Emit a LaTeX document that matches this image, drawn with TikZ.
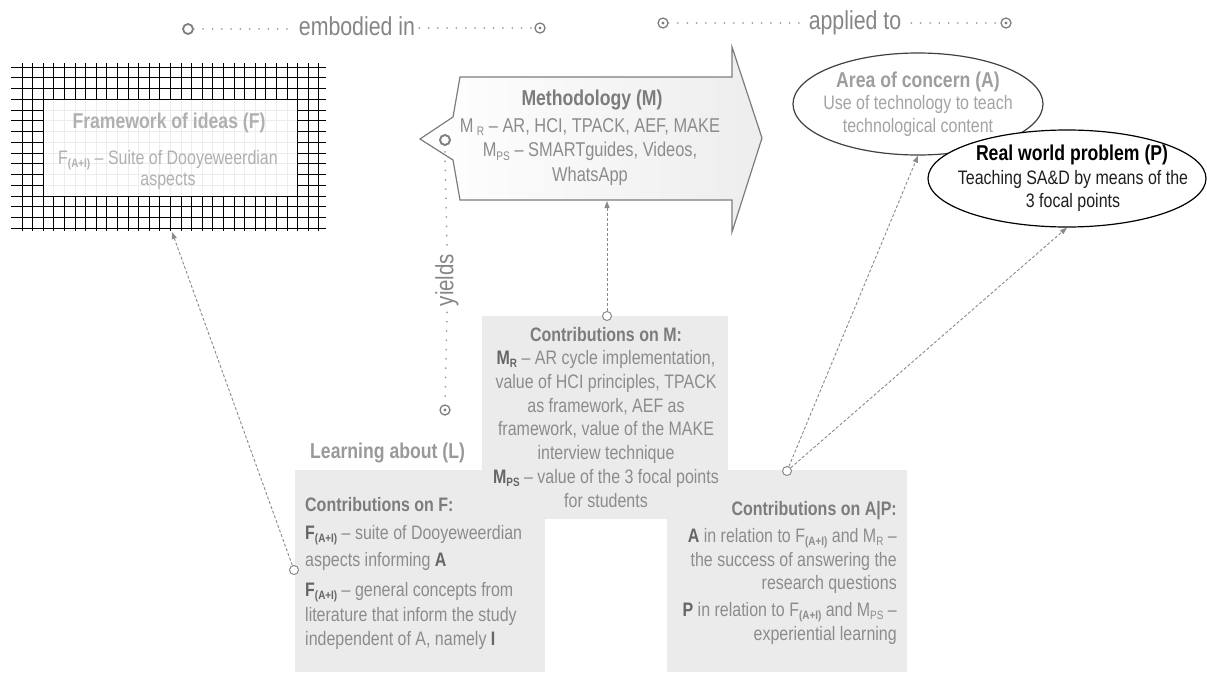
\documentclass[tikz,border=0pt]{standalone}
\usepackage{fontspec}
\setmainfont{Liberation Sans}[FakeStretch=0.82]
\usetikzlibrary{arrows.meta,shapes.geometric}

\definecolor{panel}{HTML}{EBEBEB}
\definecolor{headtxt}{HTML}{7C7C7C}
\definecolor{bodytxt}{HTML}{8C8C8C}
\definecolor{strongtxt}{HTML}{666666}
\definecolor{paletxt}{HTML}{B0B0B0}
\definecolor{linkgray}{HTML}{8A8A8A}
\definecolor{dotgray}{HTML}{A0A0A0}
\definecolor{ringgray}{HTML}{7E7E7E}
\definecolor{arrowedge}{HTML}{7C7C7C}
\definecolor{labeltxt}{HTML}{858585}

% lowered small index, e.g. M_R, F_(A+I)
\newcommand\lowidx[1]{\raisebox{-0.3ex}{\scalebox{0.62}{#1}}}
\newcommand\bodyfs{\fontsize{19.5}{23.7}\selectfont}
\newcommand\titlefs{\fontsize{21.5}{24}\selectfont}
\newcommand\labelfs{\fontsize{26}{30}\selectfont}
\newcommand\Fbold{\textbf{\color{strongtxt}F\lowidx{(A+I)}}}
\newcommand\Fsub{F\lowidx{\textbf{(A+I)}}}
\newcommand\Mbold[1]{\textbf{\color{strongtxt}M\lowidx{#1}}}

\begin{document}
\begin{tikzpicture}[x=1pt,y=-1pt,
  panelbox/.style={fill=panel, draw=none},
  gridline/.style={draw=black, line width=1.6pt},
  faintline/.style={draw=black!7, line width=0.5pt},
  dotline/.style={draw=dotgray, line width=2pt, line cap=round, dash pattern=on 0pt off 9.3pt},
  link/.style={draw=linkgray, line width=0.9pt, dash pattern=on 3pt off 2pt, -{Triangle[length=7pt,width=5pt]}},
  port/.style={circle, draw=linkgray, line width=1pt, fill=white, minimum size=9pt, inner sep=0pt},
  ring/.style={circle, draw=ringgray, line width=1.8pt, minimum size=10pt, inner sep=0pt},
  dotring/.style={circle, draw=ringgray, line width=1.3pt, minimum size=10pt, inner sep=0pt,
    path picture={\fill[ringgray] (path picture bounding box.center) circle (1.6pt);}},
  toplabel/.style={font=\labelfs, text=labeltxt, inner sep=4pt},
  headline/.style={font=\bodyfs\bfseries, text=headtxt, inner sep=0pt},
  bodytext/.style={font=\bodyfs, text=bodytxt, inner sep=0pt},
  concern/.style={ellipse, line width=1.2pt, fill=white, inner sep=0pt}
]
\useasboundingbox (0,0) rectangle (1207,672);

% ---------- framework of ideas: hatched grid frame ----------
\foreach \j in {0,...,15}
  \draw[gridline] (11,{round(66.7+10.75*\j)+0.5}) -- (326,{round(66.7+10.75*\j)+0.5});
\foreach \k in {0,...,28}
  \draw[gridline] ({round(21.6+10.6*\k)+0.5},63) -- ({round(21.6+10.6*\k)+0.5},231);
\fill[white] (44.4,100.4) rectangle (296.6,195.0);
\begin{scope}
  \clip (44.4,100.4) rectangle (296.6,195.0);
  \foreach \j in {0,...,15}
    \draw[faintline] (11,{round(66.7+10.75*\j)+0.5}) -- (326,{round(66.7+10.75*\j)+0.5});
  \foreach \k in {0,...,28}
    \draw[faintline] ({round(21.6+10.6*\k)+0.5},63) -- ({round(21.6+10.6*\k)+0.5},231);
\end{scope}
\node[minimum width=315pt, minimum height=168pt, inner sep=0pt, outer sep=1pt] (frame) at (168.5,147) {};
\node[font=\titlefs\bfseries, text=paletxt, inner sep=0pt] (fwtitle) at (169,123) {Framework of ideas (F)};
\node[font=\bodyfs, text=paletxt, align=center, inner sep=0pt] (fwtext) at (168,170)
  {\Fsub{} -- Suite of Dooyeweerdian\\[-2pt]aspects};

% ---------- top relation labels ----------
\node[ring] (e1) at (188,29) {};
\node[toplabel] (emb) at (357,26) {embodied in};
\node[dotring] (e2) at (540,28) {};
\draw[dotline] (e1.east) -- (emb.west |- e1);
\draw[dotline] (emb.east |- e2) -- (e2.west);

\node[dotring] (a1) at (663,23) {};
\node[toplabel] (app) at (855,23) {applied to};
\node[dotring] (a2) at (1006,23) {};
\draw[dotline] (a1.east) -- (app.west |- a1);
\draw[dotline] ([xshift=6pt]app.east |- a2) -- (a2.west);

% ---------- methodology arrow ----------
\path[draw=arrowedge, line width=1.2pt, line join=miter, left color=white, right color=black!7]
  (460,77) -- (732,77) -- (732,47) -- (762,138) -- (732,232) -- (732,200)
  -- (460,200) -- (453,160) -- (420,139) -- (453,117) -- cycle;
\coordinate (mbot) at (607,201);
\node[font=\titlefs\bfseries, text=headtxt, inner sep=0pt] (mtitle) at (592,100) {Methodology (M)};
\node[font=\fontsize{20}{24.5}\selectfont, text=bodytxt, align=center, inner sep=0pt] (mtext) at (590,152)
  {M\,\lowidx{R} -- AR, HCI, TPACK, AEF, MAKE\\M\lowidx{PS} -- SMARTguides, Videos,\\WhatsApp};

% ---------- yields ----------
\node[ring, line width=1.9pt, minimum size=10pt] (yring) at (445,140) {};
\node[toplabel, rotate=90, font=\fontsize{25}{28}\selectfont, inner sep=6pt] (yields) at (447,280) {yields};
\node[dotring] (ydot) at (445,410) {};
\draw[dotline] ([yshift=-6pt]yring.south) -- (yields.east);
\draw[dotline] (yields.west) -- (ydot.north);

% ---------- area of concern and real world problem ----------
\node[concern, draw=black!75, minimum width=250pt, minimum height=102pt] (A) at (918,104) {};
\node[font=\titlefs\bfseries, text=black!38, inner sep=0pt] (Atitle) at (918,82) {Area of concern (A)};
\node[font=\bodyfs, text=black!36, align=center, inner sep=0pt] (Atext) at (918,116)
  {Use of technology to teach\\technological content};
\node[concern, draw=black, minimum width=278pt, minimum height=97pt] (P) at (1067,178.5) {};
\node[font=\titlefs\bfseries, text=black, inner sep=0pt] (Ptitle) at (1072,155) {Real world problem (P)};
\node[font=\bodyfs, text=black!88, align=center, inner sep=0pt] (Ptext) at (1073,191)
  {Teaching SA\&D by means of the\\3 focal points};

% ---------- learning about (L) ----------
\node[font=\titlefs\bfseries, text=black!40, inner sep=0pt, anchor=west] (learn) at (310,453) {Learning about (L)};

% contribution panels
\fill[panelbox] (295,470) rectangle (545,672);
\fill[panelbox] (667,470) rectangle (907,672);
\fill[panelbox] (482,316) rectangle (728,519);

% contributions on F
\node[headline, anchor=west] (fhead) at (305,505) {Contributions on F:};
\node[bodytext, anchor=west, align=left] (fp1) at (305,548)
  {\Fbold{} -- suite of Dooyeweerdian\\[3pt]aspects informing \textbf{\color{strongtxt}A}};
\node[bodytext, anchor=west, align=left] (fp2) at (305,616)
  {\Fbold{} -- general concepts from\\[1pt]literature that inform the study\\independent of A, namely \textbf{\color{strongtxt}I}};

% contributions on M
\node[headline] (mhead) at (606,335) {Contributions on M:};
\node[bodytext, align=center] (mbody) at (606,429)
  {\Mbold{R} -- AR cycle implementation,\\value of HCI principles, TPACK\\as framework, AEF as\\framework, value of the MAKE\\interview technique\\\Mbold{PS} -- value of the 3 focal points\\for students};

% contributions on A|P
\node[headline, anchor=east] (aphead) at (897,511) {Contributions on A|P:};
\node[bodytext, anchor=east, align=right] (ap1) at (897,561)
  {\textbf{\color{strongtxt}A} in relation to \Fsub{} and M\lowidx{R} --\\the success of answering the\\research questions};
\node[bodytext, anchor=east, align=right] (ap2) at (897,623.5)
  {\textbf{\color{strongtxt}P} in relation to \Fsub{} and M\lowidx{PS} --\\experiential learning};

% ---------- connectors ----------
\node[port] (fport) at (294,570) {};
\node[port] (mport) at (607,316) {};
\node[port] (apport) at (787,471) {};
\draw[link] (fport) -- ([xshift=3.5pt]frame.south);
\draw[link] (mport) -- (mbot);
\draw[link] (apport) -- (A.south);
\draw[link] (apport) -- (P.south);
\end{tikzpicture}
\end{document}
